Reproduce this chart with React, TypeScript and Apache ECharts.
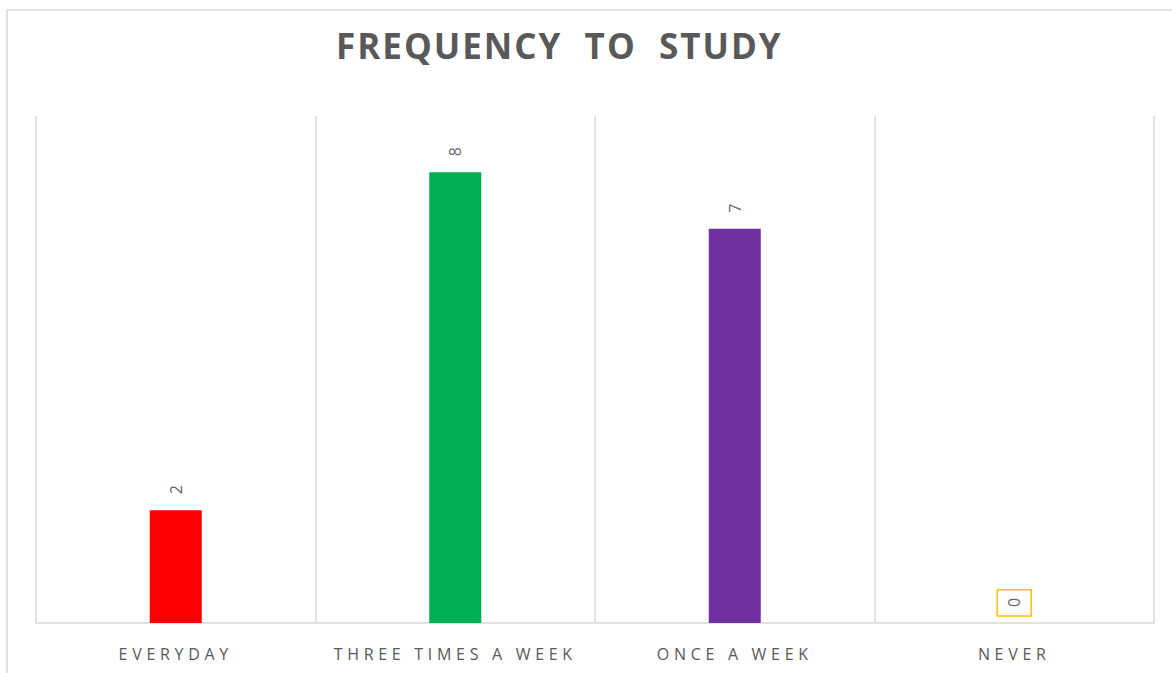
import React, { useEffect, useRef } from "react";
import * as echarts from "echarts";

const categories = ["EVERYDAY", "THREE TIMES A WEEK", "ONCE A WEEK", "NEVER"];
const counts = [2, 8, 7, 0];
const barColors = ["#FF0000", "#00B050", "#7030A0", "#FFC000"];
const titleText = "FREQUENCY  TO  STUDY";

const FONT = "'Open Sans', 'Noto Sans', sans-serif";
const TEXT_GREY = "#595959";
const LINE_GREY = "#D9D9D9";

export default function App() {
  const ref = useRef<HTMLDivElement>(null);

  useEffect(() => {
    if (!ref.current) return;
    const chart = echarts.init(ref.current, undefined, { renderer: "svg" });

    const data = counts.map((v, i) => ({
      value: v,
      itemStyle: { color: barColors[i] },
      label:
        v === 0
          ? { borderColor: "#FFC000", borderWidth: 1.5 }
          : undefined,
    }));

    chart.setOption({
      animation: false,
      backgroundColor: "#FFFFFF",
      title: {
        text: titleText,
        left: 331,
        top: 23,
        textStyle: {
          fontFamily: FONT,
          fontSize: 35,
          fontWeight: "bold",
          color: TEXT_GREY,
        },
      },
      graphic: [
        {
          type: "rect",
          z: -10,
          shape: { x: 7, y: 10, width: 1200, height: 700 },
          style: { fill: "none", stroke: LINE_GREY, lineWidth: 1.5 },
          silent: true,
        },
      ],
      grid: { left: 36, right: 18, top: 116, bottom: 50 },
      xAxis: {
        type: "category",
        data: categories,
        axisLine: { show: true, lineStyle: { color: LINE_GREY, width: 1.5 } },
        axisTick: { show: false },
        splitLine: { show: true, lineStyle: { color: LINE_GREY, width: 1.5 } },
        axisLabel: {
          margin: 23,
          fontFamily: FONT,
          fontSize: 16,
          color: TEXT_GREY,
          interval: 0,
        },
      },
      yAxis: {
        type: "value",
        min: 0,
        max: 9,
        interval: 1,
        show: false,
        splitLine: { show: false },
      },
      series: [
        {
          type: "bar",
          data,
          barWidth: 52,
          label: {
            show: true,
            position: "top",
            rotate: 90,
            align: "left",
            verticalAlign: "middle",
            distance: 7,
            padding: [8, 8, 8, 9],
            lineHeight: 18,
            fontFamily: FONT,
            fontSize: 16,
            color: "#666666",
          },
        },
      ],
    });

    return () => chart.dispose();
  }, []);

  return (
    <>
      <style>{`
        .freq-chart text[style*="35px"] { letter-spacing: 2px; }
        .freq-chart text[style*="16px"][text-anchor="middle"] { letter-spacing: 4.7px; }
      `}</style>
      <div
        ref={ref}
        className="freq-chart"
        style={{ position: "fixed", left: 0, top: 0, width: 1172, height: 673 }}
      />
    </>
  );
}
